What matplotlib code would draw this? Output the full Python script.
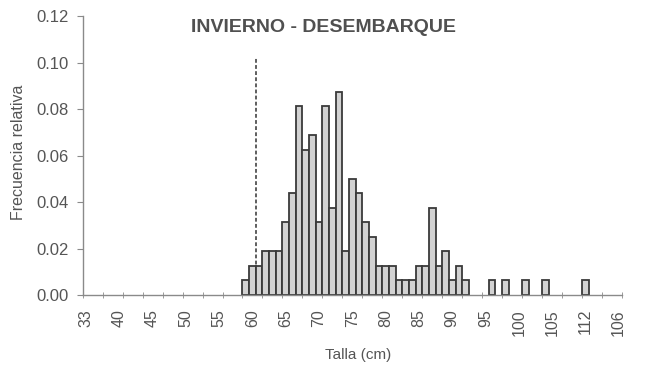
import matplotlib
matplotlib.use('agg')
import matplotlib.pyplot as plt
import numpy as np

plt.rcParams['font.family'] = ['Liberation Sans', 'DejaVu Sans']

# category axis: 81 one-cm classes, labels every 5 classes (as printed)
n_cat = 81
tick_labels = ['33', '40', '45', '50', '55', '60', '65', '70', '75', '80',
               '85', '90', '95', '100', '105', '112', '106']

# relative frequency per class (index in the category axis)
bar_pos = [24, 25, 26, 27, 28, 29, 30, 31, 32, 33, 34, 35, 36, 37, 38, 39, 40,
           41, 42, 43, 44, 45, 46, 47, 48, 49, 50, 51, 52, 53, 54, 55, 56, 57,
           61, 63, 66, 69, 75]
freq = [0.00625, 0.0125, 0.0125, 0.01875, 0.01875, 0.01875, 0.03125, 0.04375,
        0.08125, 0.0625, 0.06875, 0.03125, 0.08125, 0.0375, 0.0875, 0.01875,
        0.05, 0.04375, 0.03125, 0.025, 0.0125, 0.0125, 0.0125, 0.00625,
        0.00625, 0.00625, 0.0125, 0.0125, 0.0375, 0.0125, 0.01875, 0.00625,
        0.0125, 0.00625,
        0.00625, 0.00625, 0.00625, 0.00625, 0.00625]

talla_minima = 25.5   # dashed reference line (between classes)
linea_top = 0.102

txt = '#555555'
axc = '#8a8a8a'

fig = plt.figure(figsize=(6.49, 3.66), dpi=100)
ax = fig.add_axes([0.1274, 0.194, 0.831, 0.762])

ax.plot([talla_minima, talla_minima], [0, linea_top], ls=(0, (2.5, 1.5)),
        color='#333333', lw=1.1, zorder=1)
ax.bar(bar_pos, freq, width=1.0, color='#d2d2d2', edgecolor='#3a3a3a',
       linewidth=1.3, zorder=2)

ax.set_xlim(-0.5, n_cat - 0.5)
ax.set_ylim(0, 0.12)
ax.set_yticks(np.arange(0, 0.121, 0.02))
ax.set_yticklabels(['%.2f' % v for v in np.arange(0, 0.121, 0.02)])

ax.set_xticks(range(0, n_cat, 5))
ax.set_xticklabels(tick_labels, rotation=90)
ax.set_xticks(np.arange(-0.5, n_cat, 3), minor=True)

for s in ['top', 'right']:
    ax.spines[s].set_visible(False)
for s in ['left', 'bottom']:
    ax.spines[s].set_color(axc)
    ax.spines[s].set_linewidth(1.0)

ax.tick_params(axis='x', which='major', length=0, pad=10, labelsize=11.5,
               labelcolor=txt)
ax.tick_params(axis='x', which='minor', direction='inout', length=5,
               color=axc)
ax.tick_params(axis='y', direction='out', length=4, color=axc, pad=6,
               labelsize=12, labelcolor=txt)

ax.set_xlabel('Talla (cm)', fontsize=11, color=txt)
ax.xaxis.set_label_coords(0.51, -0.19)
ax.set_ylabel('Frecuencia relativa', fontsize=11.5, color=txt)
ax.yaxis.set_label_coords(-0.106, 0.51)

fig.text(0.498, 0.926, 'INVIERNO - DESEMBARQUE', ha='center', va='center',
         fontsize=14, fontweight='bold', color='#505050')

fig.savefig('out.png', dpi=100)
